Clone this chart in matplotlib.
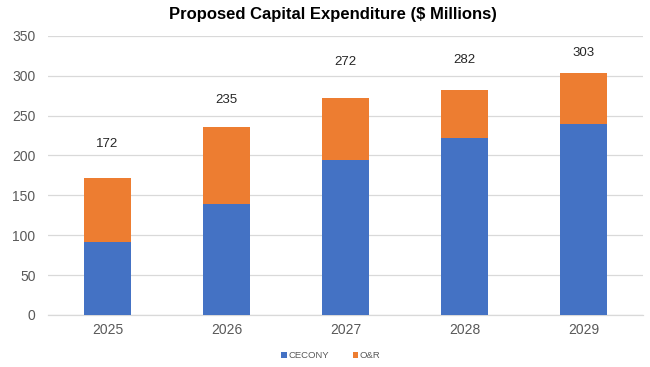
import matplotlib
matplotlib.use("Agg")
import matplotlib.pyplot as plt
import numpy as np

years = ["2025", "2026", "2027", "2028", "2029"]
cecony = [91, 139, 194, 222, 239]
totals = [172, 235, 272, 282, 303]
onr = [t - c for t, c in zip(totals, cecony)]
yticks = [0, 50, 100, 150, 200, 250, 300, 350]
label_pad = [34, 27, 36, 30, 20]  # pixel offsets above bar tops

plt.rcParams['font.family'] = ['Liberation Sans', 'DejaVu Sans']

fig = plt.figure(figsize=(6.5, 3.67), dpi=100)
ax = fig.add_axes([48/650, 1 - 315/367, (643-48)/650, (315-35.7)/367])

x = np.arange(len(years))
blue = "#4472C4"
orange = "#ED7D31"
ax.bar(x, cecony, width=0.40, color=blue, label="CECONY", zorder=3)
ax.bar(x, onr, width=0.40, bottom=cecony, color=orange, label="O&R", zorder=3)

for xi, t, p in zip(x, totals, label_pad):
    ax.annotate(str(t), (xi, t), xytext=(0, p * 0.72), textcoords="offset points",
                ha="center", va="center", fontsize=9.5, color="#262626")

ax.set_xlim(-0.5, len(years) - 0.5)
ax.set_ylim(0, 350)
ax.set_yticks(yticks)
ax.set_xticks(x)
ax.set_xticklabels(years)
ax.tick_params(axis="both", length=0, labelsize=10, labelcolor="#595959")
ax.tick_params(axis="y", pad=9)
ax.tick_params(axis="x", pad=6)
ax.grid(axis="y", color="#D9D9D9", linewidth=0.9, zorder=0)
for s in ["top", "right", "left"]:
    ax.spines[s].set_visible(False)
ax.spines["bottom"].set_color("#D9D9D9")
ax.spines["bottom"].set_linewidth(0.9)

fig.text(333/650, 1 - 14/367, "Proposed Capital Expenditure ($ Millions)",
         ha="center", va="center", fontsize=12, fontweight="bold", color="black")

leg = fig.legend(loc="center", bbox_to_anchor=(331/650, 1 - 356/367), ncol=2,
                 frameon=False, fontsize=6.8, handlelength=0.55, handleheight=0.55,
                 handletextpad=0.15, columnspacing=2.6)
for t in leg.get_texts():
    t.set_color("#595959")

fig.savefig("out.png", dpi=100)
